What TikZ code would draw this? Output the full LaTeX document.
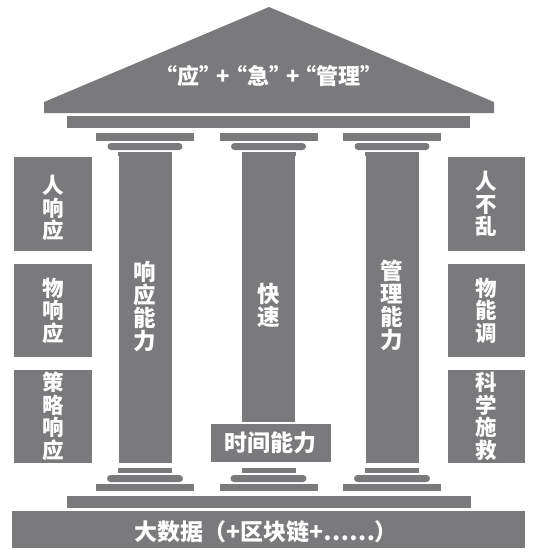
\documentclass[tikz,border=0pt]{standalone}
\usepackage{fontspec}
\newfontfamily\cjk{Noto Sans CJK SC}
\definecolor{pg}{RGB}{122,122,125}
\tikzset{
  part/.style={fill=pg},
  rpart/.style={fill=pg, rounded corners=3.5pt},
  sidebox/.style={fill=pg, minimum width=77.7pt, minimum height=93.5pt, inner sep=0pt},
  lbl/.style={text=white, inner sep=0pt, align=center},
  vtxt/.style={lbl, font=\cjk\bfseries\fontsize{21.5}{22.5}\selectfont},
  ctxt/.style={lbl, font=\cjk\bfseries\fontsize{22.5}{23}\selectfont},
  htxt/.style={lbl, font=\cjk\bfseries\fontsize{23}{23}\selectfont},
  ttxt/.style={lbl, font=\cjk\bfseries\fontsize{22}{23}\selectfont},
}
\begin{document}
\begin{tikzpicture}[x=1pt,y=-1pt]
\useasboundingbox[fill=white] (0,0) rectangle (540,555);
% roof
\fill[pg] (44,113) -- (44,102) -- (269,7) -- (494,102) -- (494,113) -- cycle;
\node[ttxt] (title) at (269,76) {“应”\kern-5pt+\kern-5pt“急”\kern-5pt+\kern-5pt“管理”};
% architrave
\fill[part] (66.5,116) rectangle (470,128);
% columns
\foreach \c/\b in {145/463, 268.5/422, 392/463}{
  \fill[part] (\c-49,133) rectangle (\c+49,141);
  \fill[rpart] (\c-37.5,143) rectangle (\c+37.5,150);
  \fill[part] (\c-27,152) rectangle (\c+27,156);
  \fill[part] (\c-26.5,152) rectangle (\c+26.5,\b);
  \fill[part] (\c-27,468) rectangle (\c+27,473);
  \fill[rpart] (\c-38,475) rectangle (\c+38,482);
  \fill[part] (\c-49,484) rectangle (\c+49,491);
}
\node[ctxt] (c1) at (145,306) {响\\应\\能\\力};
\node[ctxt] (c2) at (268.5,305) {快\\速};
\node[ctxt] (c3) at (392,305) {管\\理\\能\\力};
% time box
\node[fill=pg, minimum width=120.3pt, minimum height=38pt, inner sep=0pt] (tb) at (270.8,443) {};
\node[htxt] (tt) at (tb.center) {时间能力};
% side boxes
\node[sidebox] (l1) at (53.2,204.2) {};
\node[sidebox] (l2) at (53.2,310.7) {};
\node[sidebox] (l3) at (53.2,416.5) {};
\node[sidebox] (r1) at (486.5,204.2) {};
\node[sidebox] (r2) at (486.5,310.7) {};
\node[sidebox] (r3) at (486.5,416.5) {};
\node[vtxt] at ([yshift=-4pt]l1.center) {人\\响\\应};
\node[vtxt] at (l2.center) {物\\响\\应};
\node[vtxt] at (l3.center) {策\\略\\响\\应};
\node[vtxt] at (r1.center) {人\\不\\乱};
\node[vtxt] at (r2.center) {物\\能\\调};
\node[vtxt] at (r3.center) {科\\学\\施\\救};
% stylobate and base
\fill[part] (66.5,496) rectangle (471,508);
\node[fill=pg, minimum width=513pt, minimum height=37pt, inner sep=0pt] (base) at (268.5,529.5) {};
\node[htxt] (bt) at (266,532) {大数据（+区块链+……）};
\end{tikzpicture}
\end{document}
